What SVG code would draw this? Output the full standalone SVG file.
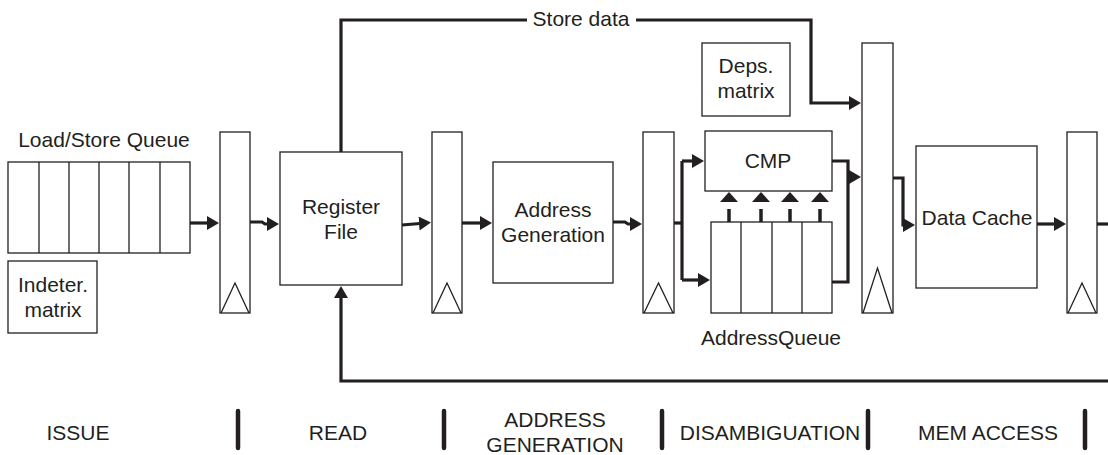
<svg xmlns="http://www.w3.org/2000/svg" width="1108" height="455" viewBox="0 0 1108 455">
<style>
.box{fill:#fff;stroke:#231f20;stroke-width:1.3}
.div{fill:none;stroke:#231f20;stroke-width:1.3}
.tri{fill:none;stroke:#231f20;stroke-width:1.3;stroke-linejoin:miter}
.wire{fill:none;stroke:#231f20;stroke-width:3.2;stroke-linejoin:miter}
.stem{fill:none;stroke:#231f20;stroke-width:3.5}
.bar{fill:none;stroke:#231f20;stroke-width:4.5;stroke-linecap:round}
text{font-family:"Liberation Sans",Arial,Helvetica,sans-serif;font-size:21px;fill:#231f20;text-anchor:middle}
</style>
<defs>
<marker id="ah" markerUnits="userSpaceOnUse" markerWidth="13" markerHeight="15" refX="1" refY="7" orient="auto">
<path d="M0,0 L12,7 L0,14 z" fill="#231f20"/>
</marker>
<marker id="ahw" markerUnits="userSpaceOnUse" markerWidth="11" markerHeight="19" refX="1" refY="9" orient="auto">
<path d="M0,0 L10,9 L0,18 z" fill="#231f20"/>
</marker>
</defs>

<g id="connectors">
<path class="wire" d="M190,223 H208" marker-end="url(#ah)"/>
<path class="wire" d="M250,222 H262 L265,224 H268" marker-end="url(#ah)"/>
<path class="wire" d="M402,225 L420,223.5" marker-end="url(#ah)"/>
<path class="wire" d="M462,223 H481" marker-end="url(#ah)"/>
<path class="wire" d="M613,222 H625 L628,224 H631" marker-end="url(#ah)"/>
<path class="wire" d="M674,223 H682"/>
<path class="wire" d="M682,161 V280"/>
<path class="wire" d="M682,161 H693" marker-end="url(#ah)"/>
<path class="wire" d="M682,280 H699" marker-end="url(#ah)"/>
<path class="stem" d="M729,209 V222 M761,209 V222 M790,209 V222 M820,209 V222"/>
<path class="wire" d="M729,202 V201" marker-end="url(#ahw)"/>
<path class="wire" d="M761,202 V201" marker-end="url(#ahw)"/>
<path class="wire" d="M790,202 V201" marker-end="url(#ahw)"/>
<path class="wire" d="M820,202 V201" marker-end="url(#ahw)"/>
<path class="wire" d="M832,161 H848 V282 H832"/>
<path class="wire" d="M848,177 H850" marker-end="url(#ah)"/>
<path class="wire" d="M341,152 V20 H527"/>
<path class="wire" d="M636,20 H811 V103 H850" marker-end="url(#ah)"/>
<path class="wire" d="M893,178 H903 V225 H904" marker-end="url(#ah)"/>
<path class="wire" d="M1037,224 H1055" marker-end="url(#ah)"/>
<path class="wire" d="M1097,224 H1108"/>
<path class="wire" d="M1108,381 H341 V297" marker-end="url(#ah)"/>
<text x="581" y="26">Store data</text>
</g>

<g id="lsq">
<rect class="box" x="8" y="162" width="182" height="91"/>
<path class="div" d="M39,162 V253 M69,162 V253 M99,162 V253 M129,162 V253 M160,162 V253"/>
<text x="104" y="147">Load/Store Queue</text>
</g>

<g id="indeter">
<rect class="box" x="8" y="261" width="89" height="72"/>
<text x="53" y="292">Indeter.</text>
<text x="53" y="317">matrix</text>
</g>

<g id="latch1">
<rect class="box" x="220" y="132" width="30" height="181"/>
<path class="tri" d="M221,313 L235,283 L249,313"/>
</g>

<g id="regfile">
<rect class="box" x="280" y="152" width="122" height="133"/>
<text x="341" y="214">Register</text>
<text x="341" y="239">File</text>
</g>

<g id="latch2">
<rect class="box" x="432" y="132" width="30" height="181"/>
<path class="tri" d="M433,313 L447,283 L461,313"/>
</g>

<g id="addrgen">
<rect class="box" x="493" y="162" width="120" height="121"/>
<text x="553" y="217">Address</text>
<text x="553" y="242">Generation</text>
</g>

<g id="latch3">
<rect class="box" x="643" y="132" width="31" height="181"/>
<path class="tri" d="M644,313 L658.5,283 L673,313"/>
</g>

<g id="deps">
<rect class="box" x="702" y="43" width="88" height="73"/>
<text x="746" y="73">Deps.</text>
<text x="746" y="98">matrix</text>
</g>

<g id="cmp">
<rect class="box" x="705" y="131" width="127" height="60"/>
<text x="768" y="168">CMP</text>
</g>

<g id="addrqueue">
<rect class="box" x="711" y="222" width="121" height="91"/>
<path class="div" d="M741,222 V313 M772,222 V313 M802,222 V313"/>
<text x="771" y="345">AddressQueue</text>
</g>

<g id="latch4">
<rect class="box" x="862" y="43" width="31" height="270"/>
<path class="tri" d="M863,313 L877.5,268 L892,313"/>
</g>

<g id="datacache">
<rect class="box" x="916" y="146" width="121" height="142"/>
<text x="977" y="225">Data Cache</text>
</g>

<g id="latch5">
<rect class="box" x="1067" y="132" width="30" height="181"/>
<path class="tri" d="M1068,313 L1082,283 L1096,313"/>
</g>

<g id="stages">
<text x="78" y="440">ISSUE</text>
<text x="338" y="440">READ</text>
<text x="555" y="427">ADDRESS</text>
<text x="555" y="452">GENERATION</text>
<text x="770" y="440">DISAMBIGUATION</text>
<text x="988" y="440">MEM ACCESS</text>
<path class="bar" d="M238,411 V448 M444,411 V448 M662,411 V448 M868,411 V448 M1085,411 V448"/>
</g>
</svg>
